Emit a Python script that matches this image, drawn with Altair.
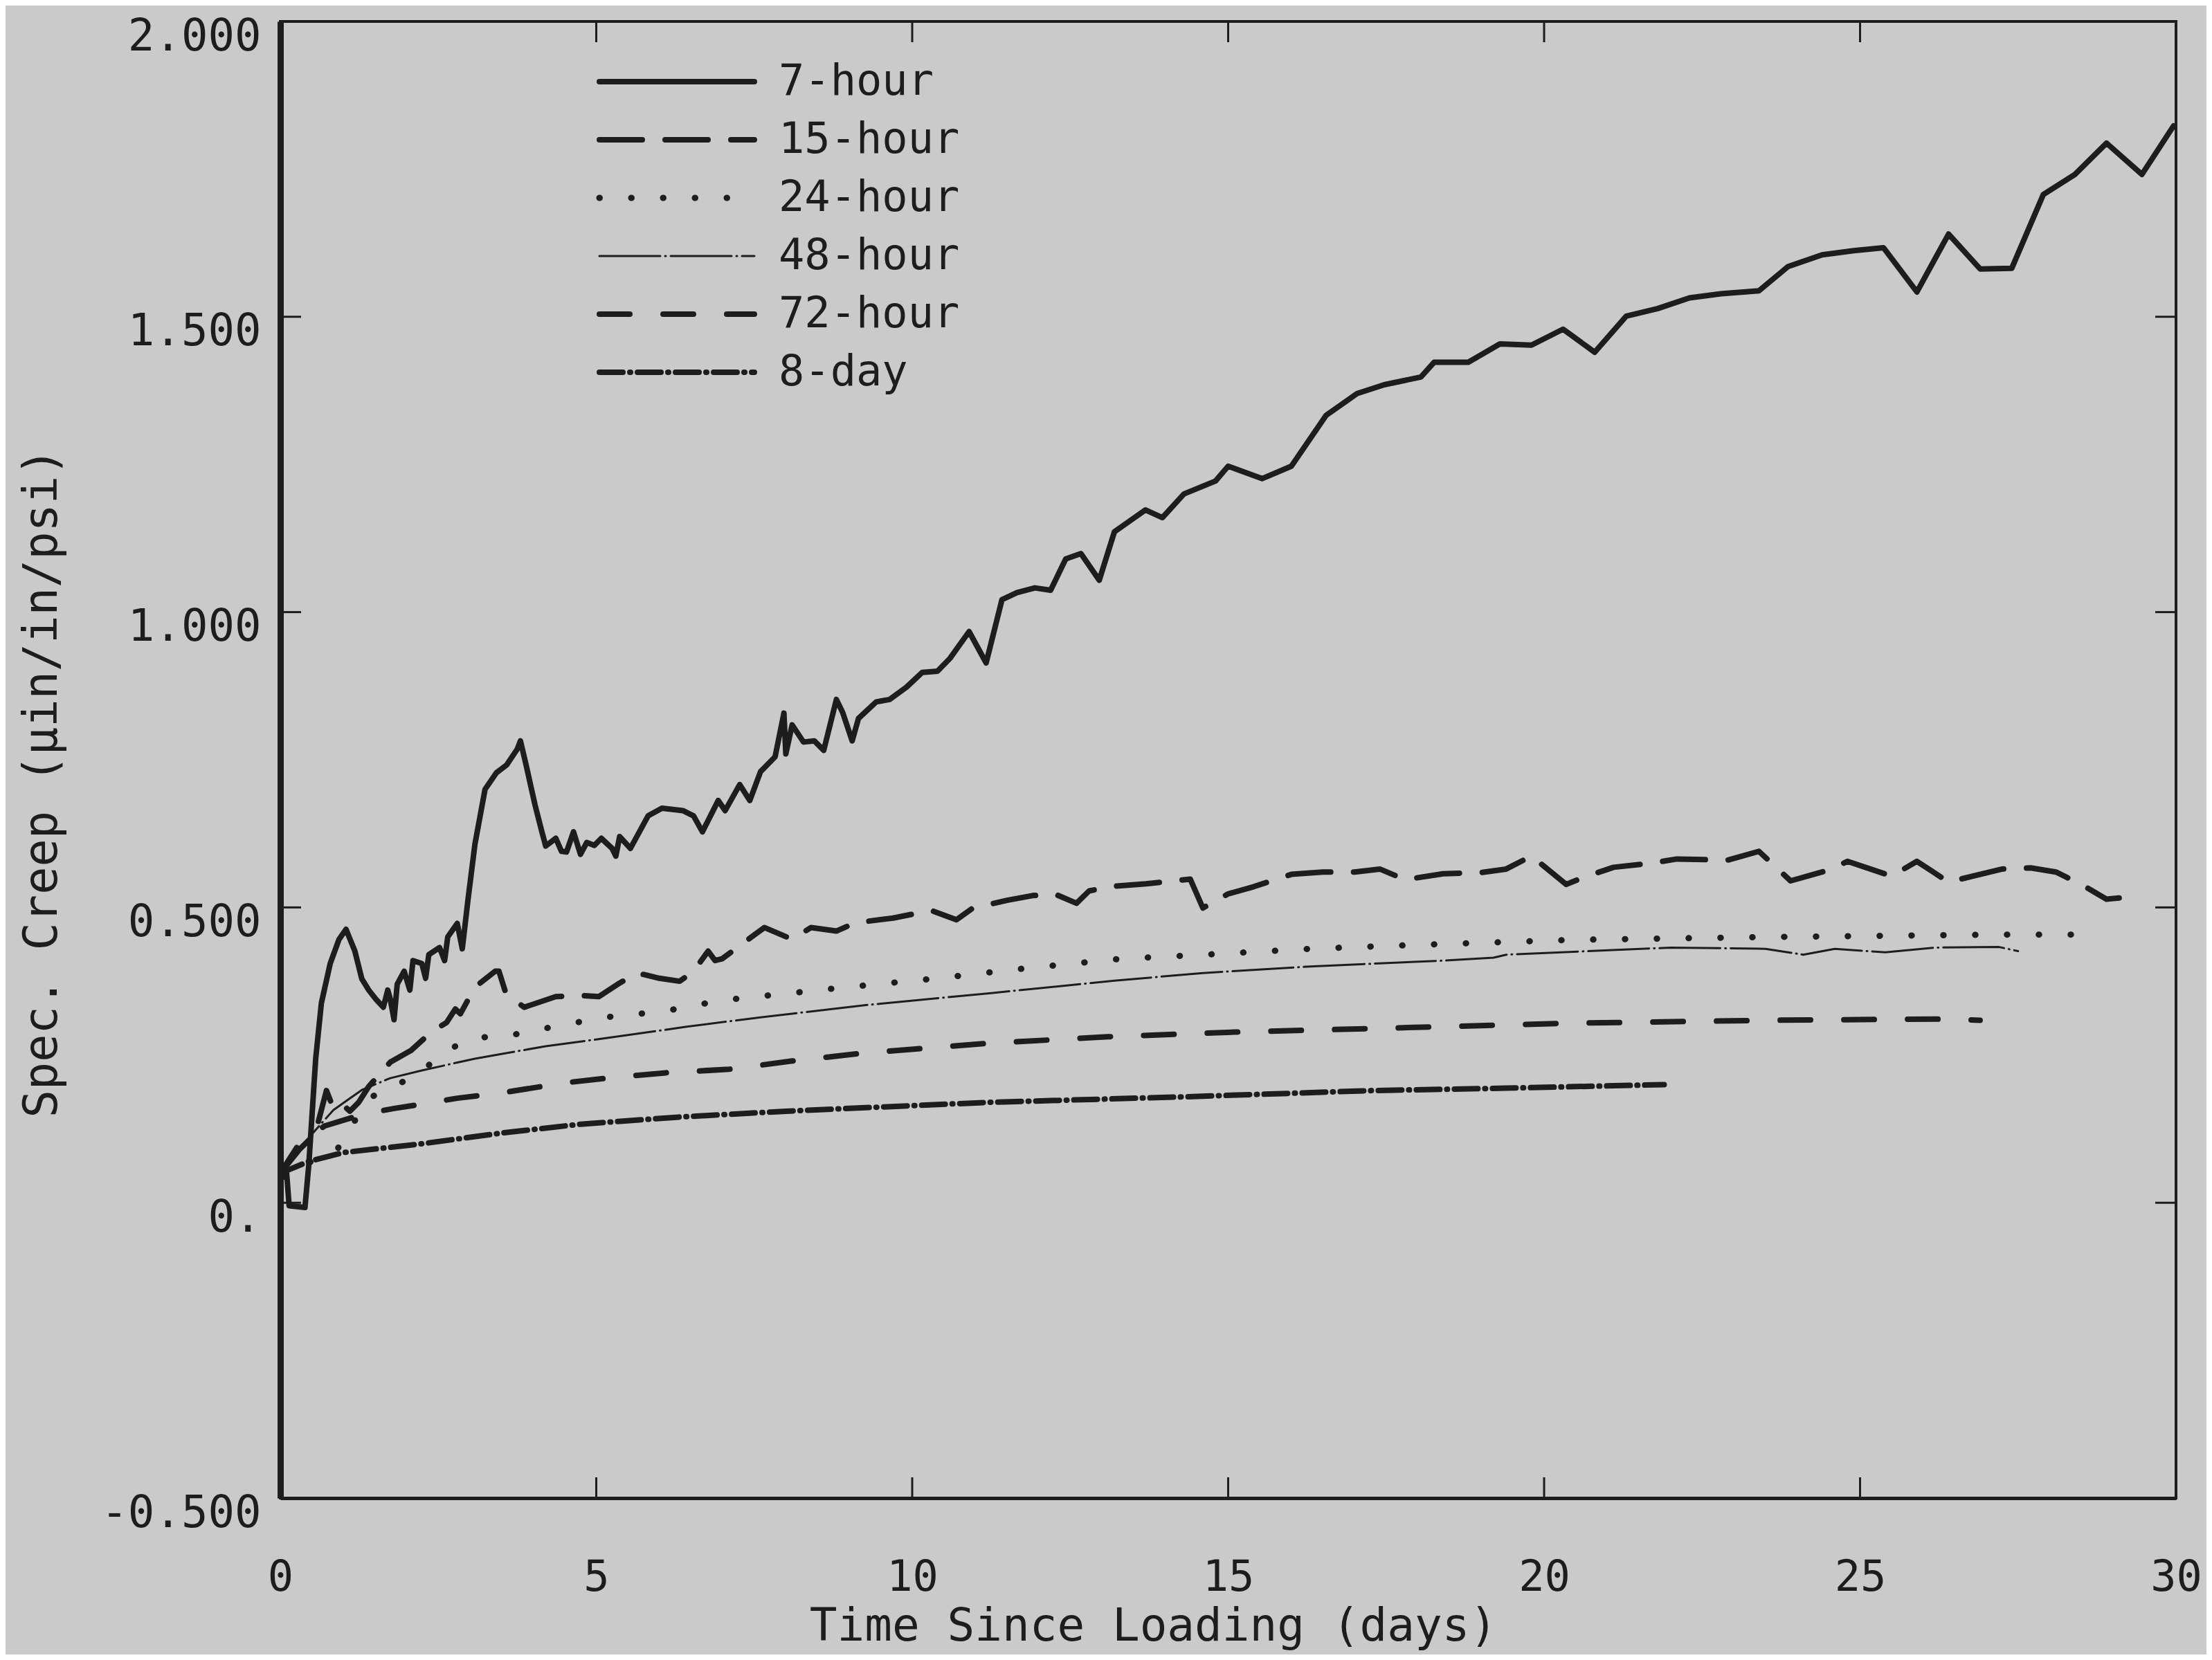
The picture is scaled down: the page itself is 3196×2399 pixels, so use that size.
import altair as alt
import pandas as pd

# ---------------- data ----------------
series_names = ["7-hour", "15-hour", "24-hour", "48-hour", "72-hour", "8-day"]

t_7h = [0, 0.1, 0.14, 0.39, 0.45, 0.56, 0.65, 0.79, 0.93, 1.04, 1.18, 1.29, 1.4, 1.51, 1.63, 1.7,
        1.74, 1.8, 1.85, 1.96, 2.05, 2.1, 2.24, 2.3, 2.35, 2.52, 2.6, 2.65, 2.8, 2.88, 2.97, 3.08,
        3.24, 3.42, 3.58, 3.75, 3.8, 3.89, 4.03, 4.14, 4.2, 4.36, 4.45, 4.53, 4.64, 4.75, 4.85,
        4.97, 5.08, 5.25, 5.31, 5.37, 5.54, 5.82, 6.04, 6.37, 6.54, 6.68, 6.93, 7.04, 7.27, 7.43,
        7.6, 7.83, 7.97, 8.0, 8.1, 8.28, 8.45, 8.6, 8.8, 8.9, 9.05, 9.15, 9.43, 9.64, 9.91, 10.16,
        10.4, 10.6, 10.9, 11.17, 11.42, 11.66, 11.94, 12.19, 12.43, 12.67, 12.96, 13.2, 13.69,
        13.96, 14.3, 14.8, 15.0, 15.54, 16.0, 16.55, 17.04, 17.47, 18.05, 18.26, 18.8, 19.3, 19.8,
        20.3, 20.8, 21.3, 21.8, 22.3, 22.8, 23.4, 23.86, 24.4, 24.9, 25.37, 25.9, 26.4, 26.9, 27.4,
        27.9, 28.4, 28.9, 29.46, 29.96]
v_7h = [0.04, 0.05, -0.005, -0.008, 0.063, 0.244, 0.338, 0.405, 0.446, 0.463, 0.426, 0.379, 0.36,
        0.345, 0.331, 0.36, 0.345, 0.31, 0.37, 0.392, 0.36, 0.41, 0.405, 0.38, 0.42, 0.432, 0.41,
        0.45, 0.473, 0.43, 0.513, 0.607, 0.70, 0.728, 0.741, 0.768, 0.782, 0.741, 0.674, 0.628,
        0.604, 0.617, 0.595, 0.594, 0.628, 0.59, 0.61, 0.605, 0.617, 0.6, 0.587, 0.62, 0.6, 0.655,
        0.668, 0.664, 0.655, 0.628, 0.681, 0.664, 0.708, 0.681, 0.73, 0.755, 0.829, 0.76, 0.809,
        0.78, 0.782, 0.766, 0.852, 0.83, 0.782, 0.82, 0.848, 0.852, 0.873, 0.898, 0.9, 0.922,
        0.967, 0.914, 1.021, 1.033, 1.041, 1.037, 1.09, 1.099, 1.054, 1.136, 1.173, 1.16, 1.2,
        1.222, 1.247, 1.226, 1.247, 1.333, 1.37, 1.385, 1.398, 1.423, 1.423, 1.454, 1.452, 1.479,
        1.44, 1.501, 1.514, 1.532, 1.539, 1.544, 1.585, 1.605, 1.612, 1.617, 1.542, 1.64, 1.581,
        1.582, 1.707, 1.741, 1.794, 1.741, 1.823]

t_15h = [0, 0.3, 0.55, 0.73, 0.84, 1.0, 1.1, 1.24, 1.4, 1.55, 1.74, 2.07, 2.4, 2.63, 2.77, 2.85,
         3.08, 3.4, 3.46, 3.58, 3.63, 3.86, 4.36, 4.75, 5.04, 5.37, 5.65, 6.0, 6.32, 6.54, 6.77,
         6.88, 6.99, 7.66, 8.1, 8.4, 8.8, 9.1, 9.7, 10.3, 10.7, 10.96, 11.5, 11.9, 12.25, 12.6,
         12.8, 13.2, 13.7, 14.4, 14.6, 15.0, 15.4, 16.0, 16.5, 17.0, 17.4, 17.8, 18.4, 19.0, 19.4,
         19.8, 20.35, 20.6, 21.1, 21.7, 22.1, 22.9, 23.4, 23.9, 24.5, 24.8, 25.5, 25.9, 26.4,
         27.25, 27.7, 28.1, 28.5, 28.9, 29.1]
v_15h = [0.05, 0.09, 0.116, 0.19, 0.16, 0.165, 0.155, 0.17, 0.197, 0.215, 0.238, 0.258, 0.29,
         0.305, 0.328, 0.32, 0.365, 0.392, 0.392, 0.351, 0.348, 0.331, 0.349, 0.351, 0.349, 0.372,
         0.389, 0.38, 0.375, 0.392, 0.426, 0.41, 0.413, 0.466, 0.446, 0.466, 0.46, 0.474, 0.482,
         0.495, 0.479, 0.499, 0.512, 0.52, 0.523, 0.507, 0.528, 0.536, 0.54, 0.548, 0.499, 0.523,
         0.535, 0.556, 0.56, 0.56, 0.565, 0.547, 0.557, 0.559, 0.565, 0.587, 0.539, 0.55, 0.568,
         0.575, 0.582, 0.58, 0.595, 0.545, 0.563, 0.578, 0.553, 0.578, 0.543, 0.565, 0.567, 0.56,
         0.539, 0.514, 0.516]

t_24h = [0, 0.5, 0.9, 1.07, 1.4, 1.85, 2.18, 2.52, 2.86, 3.08, 3.53, 4.03, 4.48, 4.98, 5.42, 5.93,
         6.43, 6.93, 7.44, 7.91, 8.87, 10.4, 11.8, 13.3, 14.8, 16.3, 17.3, 18.4, 20.4, 23.6, 27.2,
         28.8]
v_24h = [0.05, 0.07, 0.09, 0.12, 0.177, 0.2, 0.218, 0.248, 0.271, 0.28, 0.281, 0.292, 0.301,
         0.311, 0.318, 0.322, 0.331, 0.342, 0.348, 0.353, 0.364, 0.38, 0.397, 0.413, 0.421, 0.43,
         0.434, 0.438, 0.445, 0.45, 0.454, 0.454]

t_48h = [0, 0.45, 0.84, 1.29, 1.74, 2.24, 3.08, 4.2, 5.31, 6.43, 7.6, 9.3, 11.25, 13.2, 14.6,
         16.3, 18.4, 19.2, 19.4, 22.0, 23.5, 24.1, 24.6, 25.4, 26.2, 27.2, 27.5]
v_48h = [0.05, 0.11, 0.157, 0.191, 0.211, 0.224, 0.244, 0.265, 0.281, 0.298, 0.314, 0.335, 0.355,
         0.376, 0.389, 0.4, 0.41, 0.415, 0.42, 0.432, 0.43, 0.42, 0.43, 0.424, 0.432, 0.433, 0.426]

t_72h = [0, 0.3, 0.7, 1.31, 1.82, 2.24, 2.8, 3.5, 4.5, 5.35, 6.1, 7.1, 8.1, 9.2, 11.2, 13.1, 15.1,
         17.3, 20.4, 23.6, 26.2, 26.9]
v_72h = [0.05, 0.1, 0.13, 0.15, 0.16, 0.167, 0.177, 0.186, 0.203, 0.213, 0.22, 0.226, 0.24, 0.253,
         0.27, 0.281, 0.289, 0.295, 0.304, 0.309, 0.311, 0.309]

t_8d = [0, 0.45, 1.0, 2.25, 3.5, 4.75, 6.3, 8.0, 11.2, 14.2, 17.3, 19.4, 21.9]
v_8d = [0.05, 0.07, 0.085, 0.1, 0.118, 0.133, 0.145, 0.155, 0.17, 0.179, 0.19, 0.194, 0.20]

x_ticks = [0, 5, 10, 15, 20, 25, 30]
x_tick_labels = ["0", "5", "10", "15", "20", "25", "30"]
y_ticks = [-0.5, 0, 0.5, 1.0, 1.5, 2.0]
y_tick_labels = ["-0.500", "0.", "0.500", "1.000", "1.500", "2.000"]

x_title = "Time Since Loading (days)"
y_title = "Spec. Creep (µin/in/psi)"

series_data = {
    "7-hour": (t_7h, v_7h),
    "15-hour": (t_15h, v_15h),
    "24-hour": (t_24h, v_24h),
    "48-hour": (t_48h, v_48h),
    "72-hour": (t_72h, v_72h),
    "8-day": (t_8d, v_8d),
}

# ---------------- styles / layout ----------------
W, H = 2739, 2134
INK = "#1d1d1d"
BG = "#cacaca"
FONT = "DejaVu Sans Mono"

styles = {
    "7-hour": dict(w=8, dash=None),
    "15-hour": dict(w=8, dash=[62, 33]),
    "24-hour": dict(w=9, dash=[0.5, 45.5]),
    "48-hour": dict(w=3, dash=[88, 7, 1, 7]),
    "72-hour": dict(w=8, dash=[44, 48]),
    "8-day": dict(w=8, dash=[34, 10, 1, 10]),
}


def expr_from(vals, labels):
    e = "''"
    for val, lab in reversed(list(zip(vals, labels))):
        e = f"(abs(datum.value - ({val})) < 1e-9 ? '{lab}' : {e})"
    return e


xscale = alt.Scale(domain=[0, 30], nice=False, zero=False)
yscale = alt.Scale(domain=[-0.5, 2.0], nice=False, zero=False)

xaxis = alt.Axis(values=x_ticks, labelExpr=expr_from(x_ticks, x_tick_labels), ticks=False,
                 tickSize=0, labelPadding=84, labelFlush=False, labelLimit=0, labelFont=FONT,
                 labelFontSize=62, labelColor=INK, domainColor=INK, domainWidth=5, grid=False,
                 title=x_title, titleFont=FONT, titleFontSize=66, titleFontWeight="normal",
                 titleColor=INK, titleX=1261, titleY=205, titleAlign="center",
                 titleBaseline="alphabetic")
yaxis = alt.Axis(values=y_ticks, labelExpr=expr_from(y_ticks, y_tick_labels), ticks=False,
                 tickSize=0, labelPadding=28, labelOffset=22, labelFlush=False, labelLimit=0,
                 labelFont=FONT, labelFontSize=64, labelColor=INK, domainColor=INK, domainWidth=9,
                 grid=False, title=y_title, titleFont=FONT, titleFontSize=67,
                 titleFontWeight="normal", titleColor=INK, titleX=-344, titleY=1100,
                 titleAngle=270, titleAlign="center", titleBaseline="middle")

X = alt.X("t:Q", scale=xscale, axis=xaxis)
Y = alt.Y("v:Q", scale=yscale, axis=yaxis)

layers = []
for name in series_names:
    t, v = series_data[name]
    df = pd.DataFrame({"t": t, "v": v})
    st = styles[name]
    mk = dict(color=INK, strokeWidth=st["w"], strokeCap="round", strokeJoin="round", clip=True)
    if st["dash"]:
        mk["strokeDash"] = st["dash"]
    layers.append(alt.Chart(df).mark_line(**mk).encode(x=X, y=Y))

# inward ticks on all four sides
TL = 30
ydf = pd.DataFrame({"v": y_ticks})
xdf = pd.DataFrame({"t": x_ticks})
layers.append(alt.Chart(ydf).mark_rule(color=INK, strokeWidth=3).encode(
    y=Y, x=alt.value(0), x2=alt.value(TL)))
layers.append(alt.Chart(ydf).mark_rule(color=INK, strokeWidth=3).encode(
    y=Y, x=alt.value(W - TL), x2=alt.value(W)))
layers.append(alt.Chart(xdf).mark_rule(color=INK, strokeWidth=3).encode(
    x=X, y=alt.value(H - TL), y2=alt.value(H)))
layers.append(alt.Chart(xdf).mark_rule(color=INK, strokeWidth=3).encode(
    x=X, y=alt.value(0), y2=alt.value(TL)))

# legend (drawn inside the plot, upper left)
LX0, LX1, LXT, LY0, LDY = 461, 685, 720, 87, 84
for i, name in enumerate(series_names):
    st = styles[name]
    mk = dict(color=INK, strokeWidth=st["w"], strokeCap="round")
    if st["dash"]:
        mk["strokeDash"] = st["dash"]
    ldf = pd.DataFrame({"label": [name]})
    layers.append(alt.Chart(ldf).mark_rule(**mk).encode(
        x=alt.value(LX0), x2=alt.value(LX1), y=alt.value(LY0 + i * LDY)))
    layers.append(alt.Chart(ldf).mark_text(align="left", baseline="middle", font=FONT,
                                           fontSize=62, color=INK).encode(
        x=alt.value(LXT), y=alt.value(LY0 + i * LDY), text="label:N"))

chart = alt.layer(*layers).properties(
    width=W, height=H,
    padding={"left": 397, "top": 23, "right": 44, "bottom": 226},
    autosize=alt.AutoSizeParams(type="none"),
    background=BG,
).configure_view(stroke=INK, strokeWidth=4)

chart.save("out.html", embed_options={"renderer": "svg", "actions": False})
